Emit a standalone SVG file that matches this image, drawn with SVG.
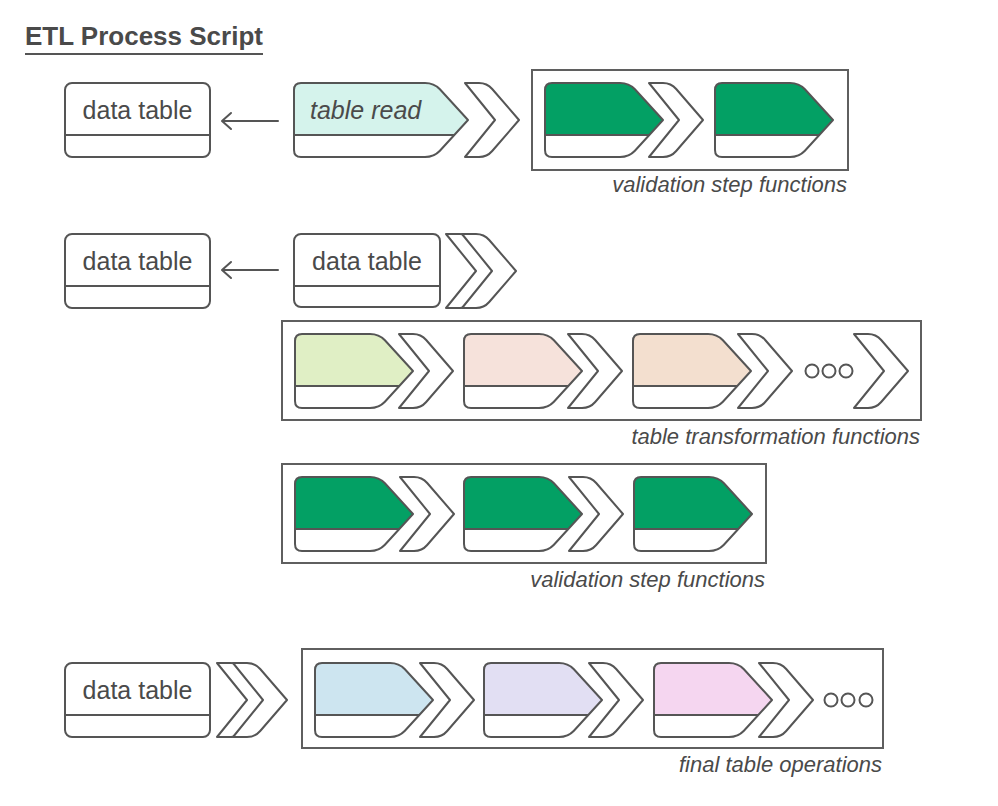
<svg xmlns="http://www.w3.org/2000/svg" xmlns:xlink="http://www.w3.org/1999/xlink" width="998" height="806" viewBox="0 0 998 806">
<style>
text{font-family:"Liberation Sans",Arial,Helvetica,sans-serif;fill:#4a4a4a}
.title{font-size:26px;font-weight:bold}
.node{font-size:25px}
.lbl{font-size:22px;font-style:italic;text-anchor:end}
.it{font-style:italic}
.ln{fill:none;stroke:#555;stroke-width:2;stroke-linejoin:round;stroke-linecap:round}
.box{fill:#fff;stroke:#5f5f5f;stroke-width:2}
.chev{fill:#fff;stroke:#555;stroke-width:2;stroke-linejoin:round}
.dot{fill:#fff;stroke:#555;stroke-width:2}
</style>
<defs>
<g id="dtbox">
<rect x="0" y="0" width="145" height="74" rx="7" fill="#fff" stroke="#555" stroke-width="2"/>
<line x1="0" y1="52" x2="145" y2="52" stroke="#555" stroke-width="2"/>
</g>
<path id="stepUp" d="M0,52 V7 Q0,0 7,0 H75 Q84,0 89.9,6.3 L118,37 L104.2,52 Z"/>
<g id="stepLine">
<path d="M7,0 H75 Q84,0 89.9,6.3 L118,37 L89.9,67.7 Q84,74 75,74 H7 Q0,74 0,67 V7 Q0,0 7,0 Z" fill="none" stroke="#555" stroke-width="2" stroke-linejoin="round"/>
<line x1="0" y1="52" x2="104.2" y2="52" stroke="#555" stroke-width="2"/>
</g>
<path id="chev" class="chev" d="M0,0 H14 Q22,0 27.2,6 L54,37 L27.2,68 Q22,74 14,74 H0 L30,37 Z"/>
</defs>
<rect width="998" height="806" fill="#fff"/>

<g id="title">
<text class="title" x="25" y="45">ETL Process Script</text>
<line x1="25" y1="54" x2="263" y2="54" stroke="#555" stroke-width="2"/>
</g>

<g id="connectors">
<line class="ln" x1="223" y1="121" x2="278" y2="121"/>
<polyline class="ln" points="231,113 222,121 231,129"/>
<line class="ln" x1="223" y1="270" x2="278" y2="270"/>
<polyline class="ln" points="231,262 222,270 231,278"/>
<use xlink:href="#chev" x="465" y="83"/>
<use xlink:href="#chev" x="446" y="234"/>
<use xlink:href="#chev" x="462" y="234"/>
<use xlink:href="#chev" x="217" y="663"/>
<use xlink:href="#chev" x="233" y="663"/>
</g>

<g id="read-output-table">
<use xlink:href="#dtbox" x="65" y="83"/>
<text class="node" x="137.5" y="119" text-anchor="middle">data table</text>
</g>

<g id="table-read">
<path d="M294,135 V90 Q294,83 301,83 H425 Q434,83 439.9,89.3 L468,120 L454.2,135 Z" fill="#d5f3ec"/>
<path d="M301,83 H425 Q434,83 439.9,89.3 L468,120 L439.9,150.7 Q434,157 425,157 H301 Q294,157 294,150 V90 Q294,83 301,83 Z" fill="none" stroke="#555" stroke-width="2" stroke-linejoin="round"/>
<line x1="294" y1="135" x2="454.2" y2="135" stroke="#555" stroke-width="2"/>
<text class="node it" x="310" y="119">table read</text>
</g>

<g id="validation-1">
<rect class="box" x="532" y="70" width="316" height="100"/>
<use xlink:href="#stepUp" x="545" y="83" fill="#03a064"/>
<use xlink:href="#stepLine" x="545" y="83"/>
<use xlink:href="#chev" x="649" y="83"/>
<use xlink:href="#stepUp" x="715" y="83" fill="#03a064"/>
<use xlink:href="#stepLine" x="715" y="83"/>
<text class="lbl" x="847" y="192">validation step functions</text>
</g>

<g id="transform-output-table">
<use xlink:href="#dtbox" x="65" y="234"/>
<text class="node" x="137.5" y="270" text-anchor="middle">data table</text>
</g>

<g id="transform-input-table">
<rect x="294" y="234" width="146" height="73" rx="7" fill="#fff" stroke="#555" stroke-width="2"/>
<line x1="294" y1="286" x2="440" y2="286" stroke="#555" stroke-width="2"/>
<text class="node" x="367" y="270" text-anchor="middle">data table</text>
</g>

<g id="transformations">
<rect class="box" x="282" y="321" width="639" height="99"/>
<use xlink:href="#stepUp" x="295" y="334" fill="#e0efc5"/>
<use xlink:href="#stepLine" x="295" y="334"/>
<use xlink:href="#chev" x="399" y="334"/>
<use xlink:href="#stepUp" x="464" y="334" fill="#f6e2db"/>
<use xlink:href="#stepLine" x="464" y="334"/>
<use xlink:href="#chev" x="568" y="334"/>
<use xlink:href="#stepUp" x="633" y="334" fill="#f3dfcf"/>
<use xlink:href="#stepLine" x="633" y="334"/>
<use xlink:href="#chev" x="738" y="334"/>
<circle class="dot" cx="812" cy="371" r="6.5"/>
<circle class="dot" cx="829" cy="371" r="6.5"/>
<circle class="dot" cx="846" cy="371" r="6.5"/>
<use xlink:href="#chev" x="854" y="334"/>
<text class="lbl" x="920" y="444">table transformation functions</text>
</g>

<g id="validation-2">
<rect class="box" x="282" y="464" width="484" height="99"/>
<use xlink:href="#stepUp" x="295" y="477" fill="#03a064"/>
<use xlink:href="#stepLine" x="295" y="477"/>
<use xlink:href="#chev" x="400" y="477"/>
<use xlink:href="#stepUp" x="464" y="477" fill="#03a064"/>
<use xlink:href="#stepLine" x="464" y="477"/>
<use xlink:href="#chev" x="569" y="477"/>
<use xlink:href="#stepUp" x="634" y="477" fill="#03a064"/>
<use xlink:href="#stepLine" x="634" y="477"/>
<text class="lbl" x="765" y="587">validation step functions</text>
</g>

<g id="final-input-table">
<use xlink:href="#dtbox" x="65" y="663"/>
<text class="node" x="137.5" y="699" text-anchor="middle">data table</text>
</g>

<g id="final-operations">
<rect class="box" x="302" y="649" width="581" height="99"/>
<use xlink:href="#stepUp" x="315" y="663" fill="#cde5f0"/>
<use xlink:href="#stepLine" x="315" y="663"/>
<use xlink:href="#chev" x="420" y="663"/>
<use xlink:href="#stepUp" x="484" y="663" fill="#e2dff3"/>
<use xlink:href="#stepLine" x="484" y="663"/>
<use xlink:href="#chev" x="589" y="663"/>
<use xlink:href="#stepUp" x="654" y="663" fill="#f5d6f0"/>
<use xlink:href="#stepLine" x="654" y="663"/>
<use xlink:href="#chev" x="759" y="663"/>
<circle class="dot" cx="831" cy="700" r="6.5"/>
<circle class="dot" cx="848" cy="700" r="6.5"/>
<circle class="dot" cx="866" cy="700" r="6.5"/>
<text class="lbl" x="882" y="772">final table operations</text>
</g>
</svg>
